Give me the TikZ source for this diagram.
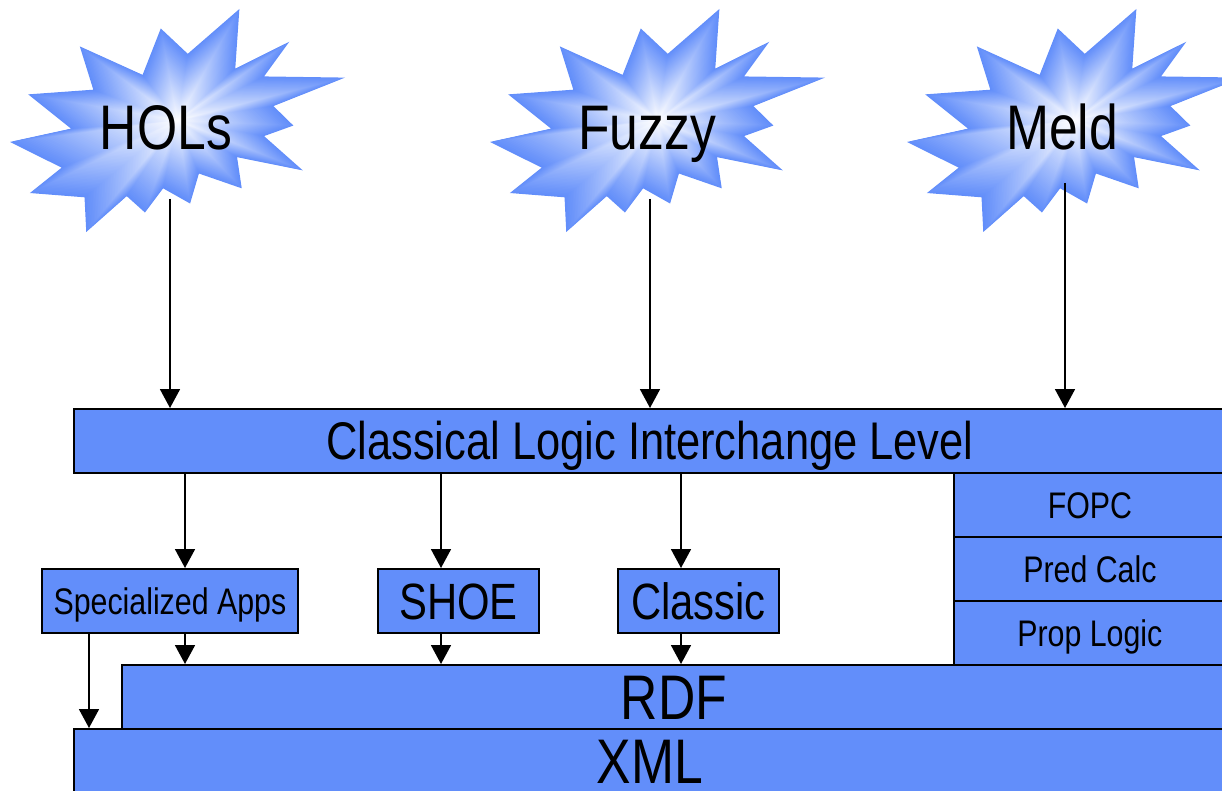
\documentclass[tikz,border=0pt]{standalone}
\usepackage{fontspec}
\setmainfont{Liberation Sans}[FakeStretch=0.82]
\usetikzlibrary{arrows.meta}

\definecolor{layerblue}{RGB}{98,142,250}
\newcommand\setfs[1]{\fontsize{#1}{#1}\selectfont}

% Explosion outline, centred on its bounding box (units of 1/216 of the box)
\newcommand\burstpath{(6.62,-64.58) -- (39.90,-108) -- (37.25,-50.23) -- (72.07,-76.28)
  -- (55.80,-42.68) -- (108,-41.55) -- (61.85,-13.98) -- (74.70,4.90) -- (55.80,15.10)
  -- (80.77,48.32) -- (38.40,35.50) -- (41.42,65.70) -- (13.80,51.35) -- (8.12,80.42)
  -- (-9.28,65.70) -- (-21.00,89.12) -- (-32.73,73.25) -- (-58.83,108) -- (-59.95,74.40)
  -- (-95.15,70.25) -- (-74.70,45.70) -- (-108,20.77) -- (-68.65,7.92) -- (-96.28,-25.30)
  -- (-54.28,-29.83) -- (-62.98,-71.75) -- (-22.50,-44.18) -- (-10.78,-89.13) -- cycle}

% Shape-following gradient: nested copies from blue rim to white centre
\newcommand\burst[2]{%
  \begin{scope}[shift={(#1,#2)}]
    \foreach \i in {0,...,59}{
      \pgfmathsetmacro\s{1-\i/60}
      \pgfmathsetmacro\p{100*\s}
      \fill[layerblue!\p!white, x=1.5509pt, y=-1.0324pt, scale=\s] \burstpath;
    }
  \end{scope}}

\begin{document}
\begin{tikzpicture}[x=1pt, y=-1pt,
  layer/.style={draw=black, line width=1.8pt, fill=layerblue, inner sep=0pt,
    anchor=north west, minimum height=64pt, text depth=0pt},
  flow/.style={line width=1.8pt, -{Triangle[width=20pt,length=19pt]}},
  burstlabel/.style={anchor=base, inner sep=0pt, font=\setfs{63}}]

\useasboundingbox (0,0) rectangle (1222,791);
\clip (0,0) rectangle (1222,791);

% explosions
\burst{177.5}{120.5}
\burst{657.5}{120.5}
\burst{1074.5}{120.5}
\node[burstlabel] (hols)  at (166,150)  {HOLs};
\node[burstlabel] (fuzzy) at (647,150)  {Fuzzy};
\node[burstlabel] (meld)  at (1062,150) {Meld};

% layers
\node[layer, minimum width=1152pt, font=\setfs{63}, text height=45pt] (xml) at (73,728) {XML};
\node[layer, minimum width=1104pt, font=\setfs{63}, text height=45pt] (rdf) at (121,664) {RDF};
\node[layer, minimum width=1152pt, font=\setfs{53}, text height=38pt] (cli) at (73,408)
  {Classical Logic Interchange Level};
\node[layer, minimum width=272pt, font=\setfs{37}, text height=26.5pt] (fopc) at (953,472) {FOPC};
\node[layer, minimum width=272pt, font=\setfs{37}, text height=26.5pt] (pred) at (953,536) {Pred Calc};
\node[layer, minimum width=272pt, font=\setfs{37}, text height=26.5pt] (prop) at (953,600) {Prop Logic};

% applications
\node[layer, minimum width=256pt, font=\setfs{37}, text height=26.5pt] (spec) at (41,568) {Specialized Apps};
\node[layer, minimum width=161pt, font=\setfs{51}, text height=36.5pt] (shoe) at (377,568) {SHOE};
\node[layer, minimum width=161pt, font=\setfs{51}, text height=36.5pt] (classic) at (617,568) {Classic};

% connector anchors
\coordinate (holsfoot)  at (170,199);
\coordinate (fuzzyfoot) at (650,199);
\coordinate (meldfoot)  at (1065,183);
\coordinate (specx)    at (185,0);
\coordinate (shoex)    at (441,0);
\coordinate (classicx) at (681,0);
\coordinate (xmlx)     at (89,0);

% connectors
\draw[flow] (holsfoot)  -- (cli.north -| holsfoot);
\draw[flow] (fuzzyfoot) -- (cli.north -| fuzzyfoot);
\draw[flow] (meldfoot)  -- (cli.north -| meldfoot);

\draw[flow] (cli.south -| specx)    -- (spec.north -| specx);
\draw[flow] (cli.south -| shoex)    -- (shoe.north -| shoex);
\draw[flow] (cli.south -| classicx) -- (classic.north -| classicx);

\draw[flow] (spec.south -| specx)       -- (rdf.north -| specx);
\draw[flow] (shoe.south -| shoex)       -- (rdf.north -| shoex);
\draw[flow] (classic.south -| classicx) -- (rdf.north -| classicx);
\draw[flow] (spec.south -| xmlx)        -- (xml.north -| xmlx);
\end{tikzpicture}
\end{document}
